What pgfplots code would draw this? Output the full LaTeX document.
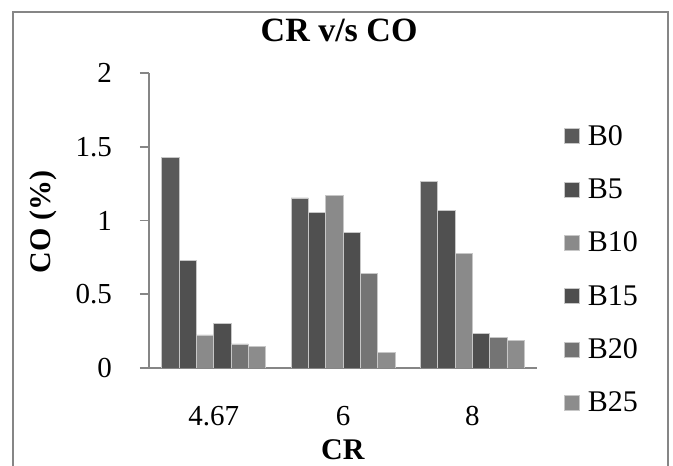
\documentclass[border=0pt]{standalone}
\usepackage{fontspec}
\setmainfont{Liberation Serif}
\usepackage{pgfplots}
\pgfplotsset{compat=1.18}
\definecolor{cB0}{HTML}{5A5A5A}
\definecolor{cB5}{HTML}{505050}
\definecolor{cB10}{HTML}{8A8A8A}
\definecolor{cB15}{HTML}{4E4E4E}
\definecolor{cB20}{HTML}{747474}
\definecolor{cB25}{HTML}{8C8C8C}
\definecolor{axgray}{HTML}{868686}
\begin{document}
\begin{tikzpicture}
\useasboundingbox (0,0) rectangle (673bp,466bp);
\draw[axgray, line width=1.8bp] (13bp,-10bp) rectangle (668bp,454bp);
\begin{axis}[
  at={(149bp,98bp)}, anchor=south west,
  scale only axis, width=388bp, height=295bp,
  xmin=-0.5, xmax=2.5, ymin=0, ymax=2,
  ybar=0pt, bar width=17.3bp,
  axis x line*=bottom, axis y line*=left,
  axis line style={axgray, line width=1.6bp, -},
  xtick={0,1,2}, xticklabels={4.67,6,8},
  major x tick style={draw=none},
  extra x ticks={-0.5,0.5,1.5,2.5}, extra x tick labels={},
  extra x tick style={tick style={axgray, line width=1.6bp}},
  ytick={0,0.5,1,1.5,2},
  yticklabels={0,0.5,1,1.5,2},
  /pgf/number format/assume math mode=true,
  tick align=outside, major tick length=9bp,
  y tick style={axgray, line width=1.6bp},
  tick label style={font=\fontsize{29bp}{33bp}\selectfont, inner sep=0pt},
  yticklabel style={anchor=east, xshift=-28bp},
  xticklabel style={anchor=center, yshift=-39bp},
  title={\textbf{CR v/s CO}},
  title style={at={(axis description cs:0.49,1.125)}, anchor=center, font=\fontsize{34bp}{38bp}\selectfont},
  xlabel={\textbf{CR}},
  xlabel style={at={(axis description cs:0.5,-0.278)}, anchor=center, font=\fontsize{30bp}{34bp}\selectfont},
  ylabel={\textbf{CO (\%)}},
  ylabel style={at={(axis description cs:-0.273,0.495)}, anchor=center, font=\fontsize{30bp}{34bp}\selectfont},
  legend style={draw=none, fill=none, at={(axis description cs:1.0696,0.83)}, anchor=north west,
    font=\fontsize{30bp}{34bp}\selectfont, inner sep=0pt, row sep=28bp,
    /tikz/every odd column/.append style={column sep=6bp}},
  legend cell align=left,
  legend image code/.code={\fill[#1] (0bp,-7.5bp) rectangle (15bp,7.5bp);},
  every axis plot/.append style={draw=white!78!black, line width=0.6bp},
]
\addplot[fill=cB0, draw=white!78!black] coordinates {(0,1.43) (1,1.153) (2,1.263)};
\addplot[fill=cB5, draw=white!78!black] coordinates {(0,0.727) (1,1.055) (2,1.069)};
\addplot[fill=cB10, draw=white!78!black] coordinates {(0,0.224) (1,1.168) (2,0.775)};
\addplot[fill=cB15, draw=white!78!black] coordinates {(0,0.305) (1,0.922) (2,0.233)};
\addplot[fill=cB20, draw=white!78!black] coordinates {(0,0.163) (1,0.644) (2,0.208)};
\addplot[fill=cB25, draw=white!78!black] coordinates {(0,0.149) (1,0.106) (2,0.188)};
\legend{B0,B5,B10,B15,B20,B25}
\end{axis}
\end{tikzpicture}
\end{document}
